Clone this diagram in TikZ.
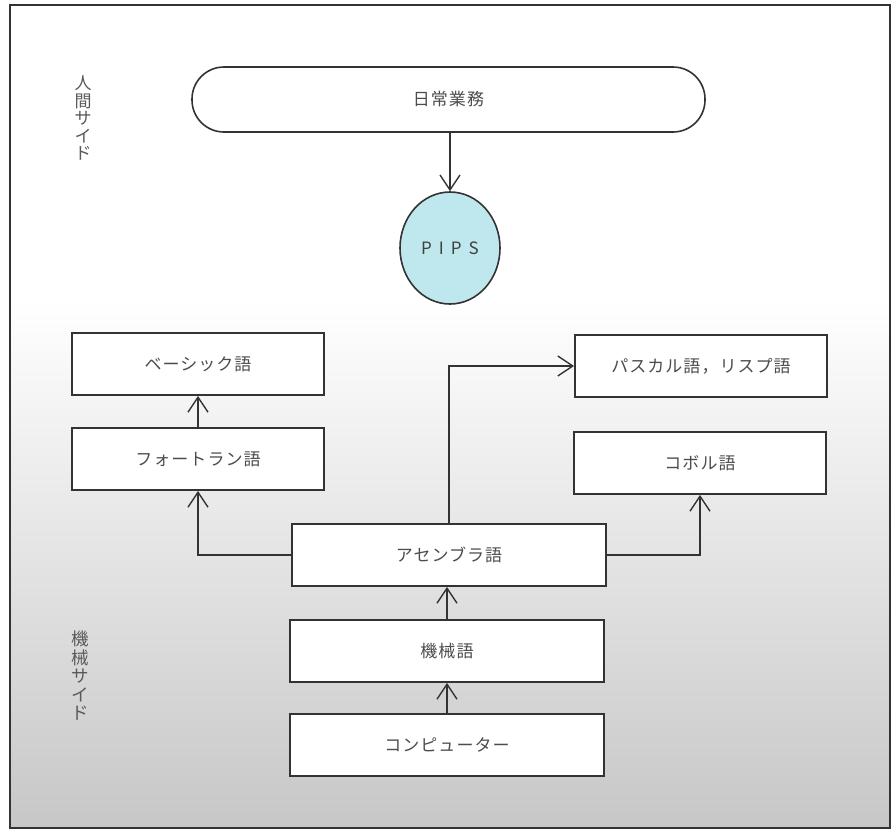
\documentclass[tikz,border=0pt]{standalone}
\usepackage{fontspec}
\setmainfont{Noto Sans CJK JP}
\newfontfamily\jp[LetterSpace=6]{Noto Sans CJK JP}
\usetikzlibrary{arrows.meta,shapes.geometric}
\definecolor{pipsblue}{HTML}{BFE8EE}
\definecolor{ink}{HTML}{333333}
\newcommand{\vstack}[3]{\parbox{24pt}{\centering\fontsize{#1}{#2}\selectfont #3}}
\begin{document}
\begin{tikzpicture}[x=1pt,y=-1pt,
  langbox/.style={draw=ink, line width=1.8pt, fill=white, minimum width=252pt, minimum height=62pt,
    inner sep=0pt, font=\jp\fontsize{17}{20}\selectfont, text=black!70},
  widebox/.style={langbox, minimum width=314pt},
  arr/.style={draw=ink, line width=1.4pt, -{Straight Barb[length=15pt,width=20pt,line width=1.4pt]}},
  sidelabel/.style={text=black!65, inner sep=0pt}
]
\useasboundingbox (0,0) rectangle (896,838);
\fill[white] (0,0) rectangle (896,838);
\fill[white] (10,5) rectangle (890,300);
\shade[top color=white, bottom color=black!22] (10,300) rectangle (890,828);
\draw[draw=ink, line width=1.4pt] (10,5) rectangle (890,828);

\node[draw=ink, line width=1.6pt, fill=white, rounded corners=32pt, minimum width=513pt, minimum height=65pt,
  font=\jp\fontsize{17}{20}\selectfont, text=black!70] (daily) at (448.5,99.5) {日常業務};
\node[ellipse, draw=ink, line width=1.6pt, fill=pipsblue, minimum width=100pt, minimum height=112pt,
  inner sep=0pt, font=\fontsize{17}{20}\selectfont, text=black!75] (pips) at (450,248)
  {P\hspace{7pt}I\hspace{7pt}P\hspace{7pt}S};

\node[langbox] (basic) at (198,364) {ベーシック語};
\node[langbox] (fortran) at (198,459) {フォートラン語};
\node[langbox] (pascal) at (701,366) {パスカル語，リスプ語};
\node[langbox] (cobol) at (700,463) {コボル語};
\node[widebox] (asm) at (449,555) {アセンブラ語};
\node[widebox] (mach) at (447,651) {機械語};
\node[widebox] (comp) at (447,745) {コンピューター};

\node[sidelabel] (human) at (83,118) {\vstack{17}{17.5}{人\\間\\サ\\イ\\ド}};
\node[sidelabel] (machine) at (80,676) {\vstack{17.5}{18.5}{機\\械\\サ\\イ\\ド}};

\draw[arr] (daily.south -| pips.north) -- (pips.north);
\draw[arr] (asm.west) -| (fortran.south);
\draw[arr] (fortran.north) -- (basic.south);
\draw[arr] (asm.north) |- (pascal.west);
\draw[arr] (asm.east) -| (cobol.south);
\draw[arr] (mach.north) -- (mach.north |- asm.south);
\draw[arr] (comp.north) -- (mach.south);
\end{tikzpicture}
\end{document}
